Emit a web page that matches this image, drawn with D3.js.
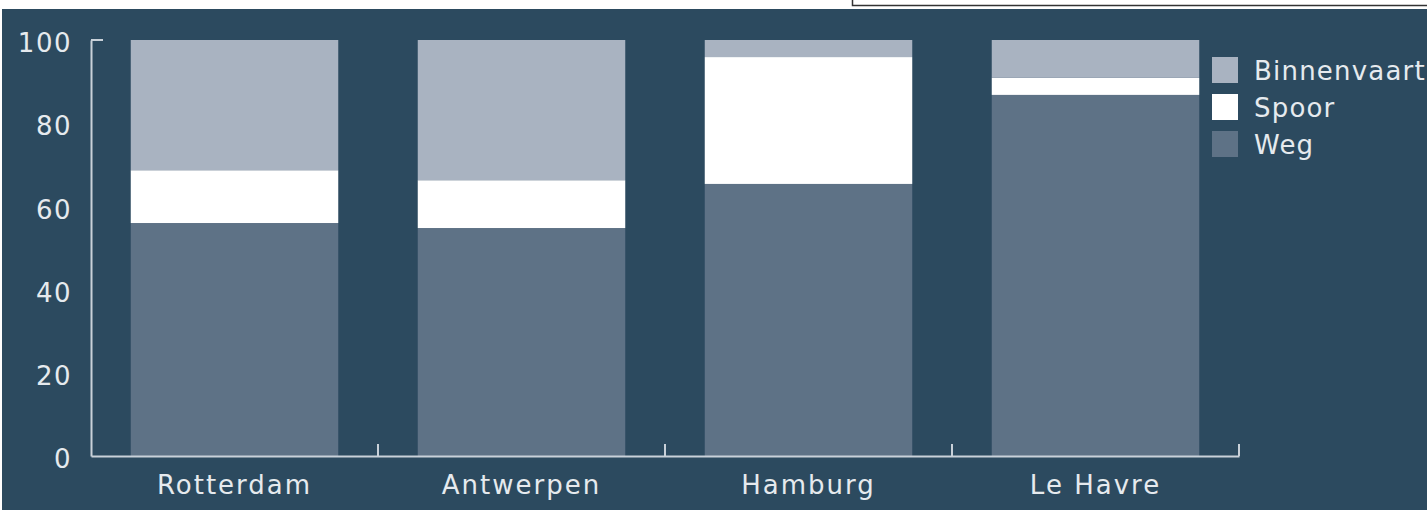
<!DOCTYPE html>
<html>
<head>
<meta charset="utf-8">
<script src="https://cdn.jsdelivr.net/npm/d3@7"></script>
<style>
  body { margin: 0; background: #fff; }
  text { font-family: "DejaVu Sans", sans-serif; }
</style>
</head>
<body>
<div id="chart"></div>
<script>
// data
var ports = ["Rotterdam", "Antwerpen", "Hamburg", "Le Havre"];
var modes = ["Weg", "Spoor", "Binnenvaart"];
var weg = [56.0, 54.8, 65.4, 86.8];
var spoor = [12.7, 11.5, 30.5, 4.1];
var binnenvaart = [31.3, 33.7, 4.1, 9.1];
var yTicks = [0, 20, 40, 60, 80, 100];

var colors = { "Weg": "#5e7286", "Spoor": "#ffffff", "Binnenvaart": "#a9b3c1" };

var svgWidth = 1427;
var svgHeight = 510;
var margin = { top: 40, right: 188, bottom: 54, left: 91 };
var width = svgWidth - margin.left - margin.right;
var height = svgHeight - margin.top - margin.bottom;

var svg = d3.select("#chart")
  .append("svg")
  .attr("width", svgWidth)
  .attr("height", svgHeight);

// background + the strip at the top
svg.append("rect")
  .attr("x", 2).attr("y", 9)
  .attr("width", svgWidth - 2).attr("height", svgHeight - 9)
  .attr("fill", "#2c4a5f");
svg.append("rect")
  .attr("x", 852.5).attr("y", -5)
  .attr("width", 600).attr("height", 10.5)
  .attr("fill", "#fff")
  .attr("stroke", "#333")
  .attr("stroke-width", 1.5);

var chartGroup = svg.append("g")
  .attr("transform", `translate(${margin.left}, ${margin.top})`);

var table = ports.map(function(p, i) {
  return { port: p, Weg: weg[i], Spoor: spoor[i], Binnenvaart: binnenvaart[i] };
});
var stacked = d3.stack().keys(modes)(table);

var xScale = d3.scaleBand()
  .domain(ports)
  .range([0, width])
  .padding(0);

var yScale = d3.scaleLinear()
  .domain([0, 100])
  .range([height, 0]);

var barWidth = xScale.bandwidth() * 0.723;
var barOffset = (xScale.bandwidth() - barWidth) / 2;

// bars
chartGroup.selectAll("g.layer")
  .data(stacked)
  .enter()
  .append("g")
  .attr("class", "layer")
  .attr("fill", d => colors[d.key])
  .selectAll("rect")
  .data(d => d)
  .enter()
  .append("rect")
  .attr("x", d => xScale(d.data.port) + barOffset)
  .attr("y", d => yScale(d[1]))
  .attr("width", barWidth)
  .attr("height", d => yScale(d[0]) - yScale(d[1]));

var axisColor = "#c9d1d9";
var labelColor = "#e6eaee";

// y axis
var yAxis = chartGroup.append("g")
  .call(d3.axisLeft(yScale).tickValues(yTicks).tickSize(0).tickPadding(19));
yAxis.select(".domain").attr("stroke", axisColor).attr("stroke-width", 2);
yAxis.selectAll("text")
  .attr("fill", labelColor)
  .attr("font-size", 26)
  .attr("letter-spacing", 1.5)
  .attr("dy", "0.45em");

chartGroup.append("line")
  .attr("x1", 0).attr("x2", 12)
  .attr("y1", yScale(100)).attr("y2", yScale(100))
  .attr("stroke", axisColor).attr("stroke-width", 2);

// x axis
var xAxis = chartGroup.append("g")
  .attr("transform", `translate(0, ${height})`)
  .call(d3.axisBottom(xScale).tickSize(0).tickPadding(20));
xAxis.select(".domain").attr("stroke", axisColor).attr("stroke-width", 2);
xAxis.selectAll("text")
  .attr("fill", labelColor)
  .attr("font-size", 26)
  .attr("letter-spacing", 2);

chartGroup.selectAll("line.sep")
  .data(ports)
  .enter()
  .append("line")
  .attr("class", "sep")
  .attr("x1", d => xScale(d) + xScale.bandwidth())
  .attr("x2", d => xScale(d) + xScale.bandwidth())
  .attr("y1", height)
  .attr("y2", height - 12)
  .attr("stroke", axisColor)
  .attr("stroke-width", 2);

// legend
var legend = svg.append("g")
  .attr("transform", "translate(1212, 57)");
var legendItems = legend.selectAll("g")
  .data(modes.slice().reverse())
  .enter()
  .append("g")
  .attr("transform", (d, i) => `translate(0, ${i * 37})`);
legendItems.append("rect")
  .attr("width", 26)
  .attr("height", 26)
  .attr("fill", d => colors[d]);
legendItems.append("text")
  .attr("x", 42)
  .attr("y", 13)
  .attr("dy", "0.37em")
  .attr("fill", labelColor)
  .attr("font-size", 26)
  .attr("letter-spacing", 1.2)
  .text(d => d);
</script>
</body>
</html>
